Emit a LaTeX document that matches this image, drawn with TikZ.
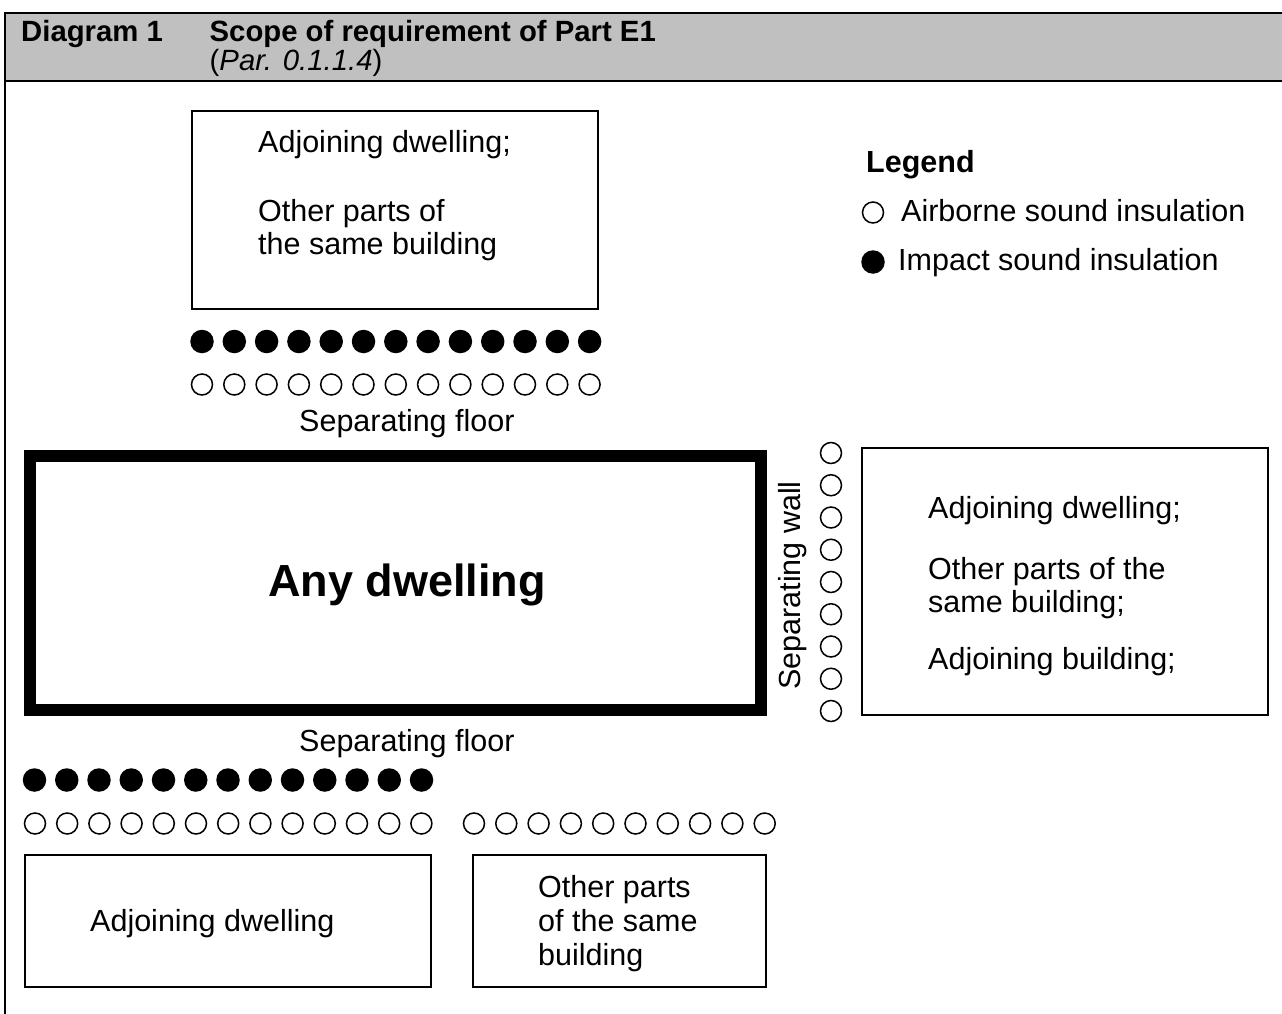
\documentclass[tikz,border=0pt]{standalone}
\usepackage{fontspec}
\setmainfont{Liberation Sans}
\definecolor{hdrgrey}{RGB}{192,192,192}
\begin{document}
\begin{tikzpicture}[x=1pt,y=-1pt,
  frameline/.style={line width=2.4pt},
  box/.style={draw, line width=1.5pt, rectangle, inner sep=0pt},
  dwell/.style={draw, line width=12pt, rectangle, inner sep=0pt},
  txt/.style={inner sep=0pt, anchor=base west, font=\fontsize{30.5}{34}\selectfont},
  hdrtxt/.style={inner sep=0pt, anchor=base west, font=\fontsize{29.3}{32}\selectfont\bfseries},
  imp/.style={circle, fill=black, inner sep=0pt, minimum size=23.5pt},
  air/.style={circle, draw, line width=1.5pt, inner sep=0pt, minimum size=21pt}]
\useasboundingbox (0,0) rectangle (1282,1014);
% header
\fill[hdrgrey] (5,13) rectangle (1282,81);
\draw[frameline] (1282,13) -- (5,13) -- (5,1014);
\draw[frameline] (5,81) -- (1282,81);
\node[hdrtxt] (dnum) at (21,41.5) {Diagram 1};
\node[hdrtxt] (dtitle) at (209.5,41.5) {Scope of requirement of Part E1};
\node[txt, font=\fontsize{29.3}{32}\selectfont] (dpar) at (209.5,70.5) {(\textit{Par. 0.1.1.4})};
% boxes
\node[box, minimum width=406pt, minimum height=198pt] (topbox) at (395,210) {};
\node[box, minimum width=406pt, minimum height=267pt] (rightbox) at (1065,581.5) {};
\node[box, minimum width=406pt, minimum height=132pt] (blbox) at (228,921) {};
\node[box, minimum width=293pt, minimum height=132pt] (bmbox) at (619.5,921) {};
\node[dwell, minimum width=731pt, minimum height=254pt] (anyd) at (395.5,583) {};
% texts in boxes
\node[txt] (t1) at (258,153) {Adjoining dwelling;};
\node[txt] (t2) at (258,221) {Other parts of};
\node[txt] (t3) at (258,254) {the same building};
\node[txt] (r1) at (928,518) {Adjoining dwelling;};
\node[txt] (r2) at (928,579) {Other parts of the};
\node[txt] (r3) at (928,612) {same building;};
\node[txt] (r4) at (928,669) {Adjoining building;};
\node[txt] (b1) at (90,931) {Adjoining dwelling};
\node[txt] (m1) at (538,897) {Other parts};
\node[txt] (m2) at (538,931) {of the same};
\node[txt] (m3) at (538,965) {building};
\node[inner sep=0pt, anchor=base west, font=\fontsize{45}{50}\selectfont\bfseries] (anytxt) at (268,596) {Any dwelling};
% separating labels
\node[txt] (sf1) at (299,431) {Separating floor};
\node[txt] (sf2) at (299,751) {Separating floor};
\node[txt, rotate=90] (sw) at (800,690) {Separating wall};
% circle rows
\foreach \i in {0,...,12} {
  \node[imp] (ti\i) at ({202+32.3*\i},341.5) {};
  \node[air] (ta\i) at ({202+32.3*\i},384.5) {};
  \node[imp] (bi\i) at ({34.5+32.25*\i},780) {};
  \node[air] (ba\i) at ({35+32.2*\i},823.5) {};
}
\foreach \i in {0,...,9} {
  \node[air] (bm\i) at ({474+32.3*\i},823.5) {};
}
\foreach \i in {0,...,8} {
  \node[air] (w\i) at (831,{453+32.25*\i}) {};
}
% legend
\node[txt, font=\fontsize{30.5}{34}\selectfont\bfseries] (leg) at (866,172) {Legend};
\node[air] (legair) at (873,212.5) {};
\node[txt] (legairt) at (901,221) {Airborne sound insulation};
\node[imp] (legimp) at (873,262) {};
\node[txt] (legimpt) at (898,270) {Impact sound insulation};
\end{tikzpicture}
\end{document}
